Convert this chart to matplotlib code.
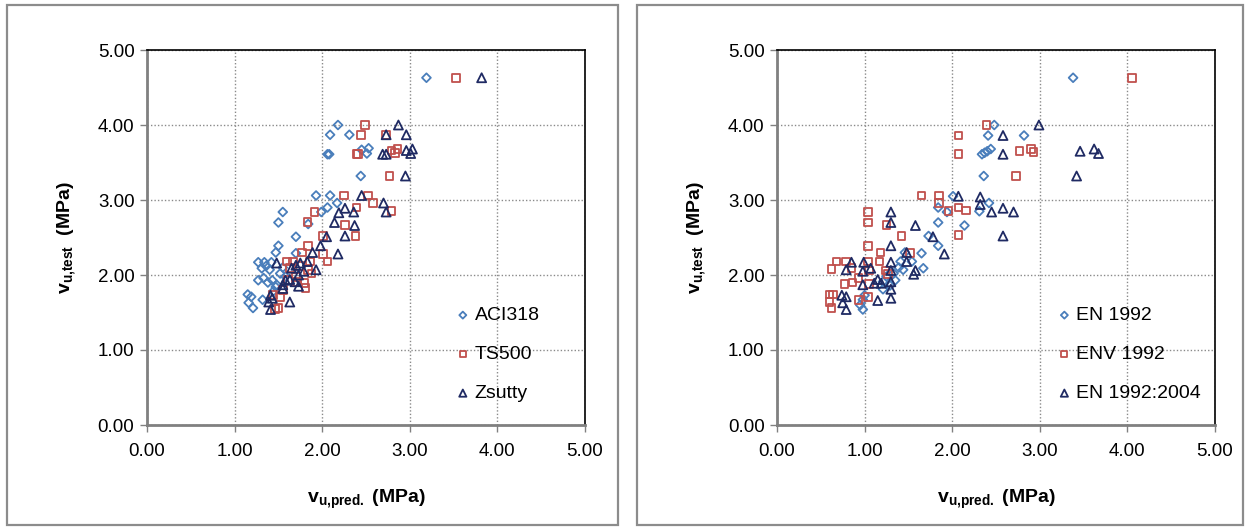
import numpy as np
import matplotlib
matplotlib.use("Agg")
import matplotlib.pyplot as plt
from matplotlib.patches import Rectangle

plt.rcParams['font.family'] = ['Liberation Sans', 'DejaVu Sans']
plt.rcParams['mathtext.fontset'] = 'custom'
plt.rcParams['mathtext.rm'] = 'Liberation Sans'
plt.rcParams['mathtext.bf'] = 'Liberation Sans:bold'
plt.rcParams['mathtext.it'] = 'Liberation Sans:italic'

# left panel: ACI318 / TS500 / Zsutty
aci_x = [3.19, 2.18, 2.09, 2.31, 2.06, 2.08, 2.45, 2.53, 2.51, 2.44,
         1.93, 2.09, 2.17, 2.06, 1.99, 1.55, 1.50, 1.84, 1.70, 1.50,
         1.47, 1.70, 1.27, 1.34, 1.42, 1.31, 1.40, 1.52, 1.27, 1.33,
         1.38, 1.43, 1.48, 1.15, 1.19, 1.16, 1.21, 1.32, 1.44,
         1.55, 1.58, 1.47, 1.36]
aci_y = [4.63, 4.00, 3.87, 3.87, 3.61, 3.61, 3.67, 3.69, 3.62, 3.32,
         3.06, 3.06, 2.96, 2.90, 2.84, 2.84, 2.70, 2.68, 2.51, 2.39,
         2.30, 2.29, 2.17, 2.17, 2.17, 2.09, 2.07, 2.02, 1.93, 1.96,
         1.90, 1.93, 1.87, 1.74, 1.71, 1.63, 1.56, 1.67, 1.78,
         2.10, 1.98, 1.84, 2.12]

ts_x = [3.53, 2.49, 2.44, 2.73, 2.39, 2.41, 2.79, 2.86, 2.83, 2.77,
        2.25, 2.52, 2.58, 2.39, 1.91, 1.83, 2.26, 2.38, 2.01, 1.84,
        1.77, 2.01, 2.06, 1.60, 1.67, 1.86, 1.63, 1.84, 1.88, 1.61,
        1.71, 1.80, 1.81, 1.44, 1.52, 1.50, 1.46, 2.79,
        1.75, 1.70, 1.55]
ts_y = [4.63, 4.00, 3.87, 3.87, 3.61, 3.61, 3.66, 3.68, 3.63, 3.32,
        3.06, 3.06, 2.96, 2.90, 2.84, 2.71, 2.67, 2.52, 2.52, 2.39,
        2.30, 2.28, 2.18, 2.18, 2.18, 2.18, 2.09, 2.07, 2.02, 1.93,
        1.91, 1.89, 1.83, 1.73, 1.71, 1.56, 1.55, 2.85,
        2.12, 1.97, 1.80]

zs_x = [3.82, 2.87, 2.73, 2.96, 2.69, 2.73, 2.96, 3.03, 3.01, 2.95,
        2.45, 2.26, 2.19, 2.36, 2.14, 2.37, 2.05, 2.26, 1.98, 1.89,
        2.18, 1.48, 1.83, 1.75, 1.70, 1.65, 1.93, 1.79, 1.73, 1.63,
        1.58, 1.69, 1.55, 1.73, 1.55, 1.41, 1.43, 1.39, 1.41, 1.63,
        2.70, 2.73]
zs_y = [4.63, 4.00, 3.87, 3.87, 3.61, 3.61, 3.66, 3.68, 3.62, 3.32,
        3.06, 2.89, 2.83, 2.84, 2.70, 2.66, 2.51, 2.52, 2.39, 2.30,
        2.28, 2.16, 2.18, 2.16, 2.13, 2.09, 2.07, 2.05, 2.00, 1.94,
        1.93, 1.91, 1.87, 1.85, 1.82, 1.73, 1.69, 1.64, 1.54, 1.64,
        2.96, 2.84]

# right panel: EN 1992 / ENV 1992 / EN 1992:2004
en_x = [3.38, 2.48, 2.41, 2.82, 2.34, 2.37, 2.40, 2.44, 2.36,
        2.01, 2.42, 2.31, 1.94, 2.14,
        1.84, 1.84, 1.73, 1.84, 1.65, 1.67, 1.46, 1.54, 1.41, 1.39,
        1.44, 1.33, 1.25, 1.35, 1.21, 1.29, 1.21, 1.00, 0.98, 0.95, 0.98]
en_y = [4.63, 4.00, 3.86, 3.86, 3.61, 3.63, 3.65, 3.68, 3.32,
        3.05, 2.96, 2.85, 2.84, 2.66,
        2.90, 2.70, 2.52, 2.39, 2.29, 2.09, 2.30, 2.18, 2.18, 2.10,
        2.07, 2.02, 1.98, 1.93, 1.91, 1.86, 1.81, 1.73, 1.67, 1.60, 1.54]

env_x = [4.05, 2.39, 2.07, 2.07, 2.77, 2.90, 2.93, 2.73,
         2.07, 2.16, 1.96, 2.07,
         1.65, 1.85, 1.85, 1.04, 1.04, 1.25, 1.42, 1.04, 1.18, 1.52,
         0.68, 0.79, 1.04, 1.17, 0.62, 0.85, 0.93, 1.05, 1.24, 1.27,
         0.77, 0.86, 1.05, 1.04, 0.93, 0.60, 0.64, 0.60, 0.62]
env_y = [4.63, 4.00, 3.86, 3.61, 3.65, 3.68, 3.64, 3.32,
         2.90, 2.86, 2.85, 2.53,
         3.06, 3.06, 2.96, 2.84, 2.70, 2.67, 2.52, 2.39, 2.30, 2.29,
         2.18, 2.18, 2.18, 2.18, 2.08, 2.09, 1.96, 2.06, 2.06, 2.01,
         1.88, 1.90, 1.88, 1.71, 1.67, 1.74, 1.74, 1.64, 1.56]

en04_x = [2.99, 2.58, 2.58, 3.46, 3.62, 3.67, 3.42,
          2.07, 2.32, 2.32, 2.45, 2.58, 2.70, 2.58, 1.91,
          1.30, 1.30, 1.58, 1.78, 1.30, 1.48, 0.85, 0.99, 0.79, 1.07,
          0.98, 1.30, 1.30, 1.15, 1.19, 1.11, 0.98, 1.30, 1.30, 0.74,
          0.79, 0.75, 0.79, 1.15, 1.30, 1.48, 1.56, 1.58]
en04_y = [4.00, 3.86, 3.61, 3.65, 3.68, 3.62, 3.32,
          3.05, 3.04, 2.94, 2.84, 2.89, 2.84, 2.52, 2.28,
          2.84, 2.70, 2.66, 2.51, 2.39, 2.30, 2.17, 2.17, 2.07, 2.09,
          2.05, 2.17, 2.06, 1.94, 1.89, 1.89, 1.87, 1.91, 1.81, 1.73,
          1.71, 1.63, 1.54, 1.66, 1.69, 2.18, 2.01, 2.06]

ticks = [0, 1, 2, 3, 4, 5]
tick_lbl = ['0.00', '1.00', '2.00', '3.00', '4.00', '5.00']

c_blue = '#4a7ebb'
c_red = '#c0504d'
c_navy = '#1f2a63'

W, H = 1245, 527
fig = plt.figure(figsize=(W / 100, H / 100), dpi=100)

# grey frames around each panel
fig.patches.append(Rectangle((7 / W, 2 / H), 611 / W, 520 / H, transform=fig.transFigure,
                             fill=False, edgecolor='#8c8c8c', lw=1.6))
fig.patches.append(Rectangle((637 / W, 2 / H), 606 / W, 520 / H, transform=fig.transFigure,
                             fill=False, edgecolor='#8c8c8c', lw=1.6))


def panel(left_px, series, leg_x):
    ax = fig.add_axes([left_px / W, (H - 425) / H, 438 / W, 375 / H])
    for x, y, m, s, c, lab in series:
        ax.scatter(x, y, marker=m, s=s, facecolors='none', edgecolors=c,
                   linewidths=1.3, label=lab, zorder=3)
    ax.set_xlim(0, 5)
    ax.set_ylim(0, 5)
    ax.set_xticks(ticks)
    ax.set_yticks(ticks)
    ax.set_xticklabels(tick_lbl, fontsize=13.5)
    ax.set_yticklabels(tick_lbl, fontsize=13.5)
    ax.grid(True, linestyle=(0, (1, 1.5)), color='#8a8a8a', lw=1.0)
    for sp in ['left', 'bottom']:
        ax.spines[sp].set_color('#808080')
        ax.spines[sp].set_linewidth(2)
    for sp in ['top', 'right']:
        ax.spines[sp].set_color('black')
        ax.spines[sp].set_linewidth(1.2)
    ax.tick_params(direction='out', length=5, color='#808080', width=1, pad=4)
    ax.tick_params(axis='x', pad=8)
    ax.set_xlabel(r'$\mathbf{v}_{\mathbf{u{,}pred.}}$ (MPa)', fontsize=14,
                  fontweight='bold', labelpad=20)
    ax.set_ylabel(r'$\mathbf{v}_{\mathbf{u{,}test}}$  (MPa)', fontsize=14,
                  fontweight='bold', labelpad=14)
    ax.legend(loc='lower left', bbox_to_anchor=(leg_x, 0.04), frameon=False,
              fontsize=14, handlelength=0.6, handletextpad=0.3,
              labelspacing=1.1, markerscale=0.8, borderaxespad=0)
    return ax


panel(147, [(aci_x, aci_y, 'D', 20, c_blue, 'ACI318'),
            (ts_x, ts_y, 's', 30, c_red, 'TS500'),
            (zs_x, zs_y, '^', 42, c_navy, 'Zsutty')], 0.69)
panel(777, [(en_x, en_y, 'D', 20, c_blue, 'EN 1992'),
            (env_x, env_y, 's', 30, c_red, 'ENV 1992'),
            (en04_x, en04_y, '^', 42, c_navy, 'EN 1992:2004')], 0.625)

fig.savefig('out.png', dpi=100)
